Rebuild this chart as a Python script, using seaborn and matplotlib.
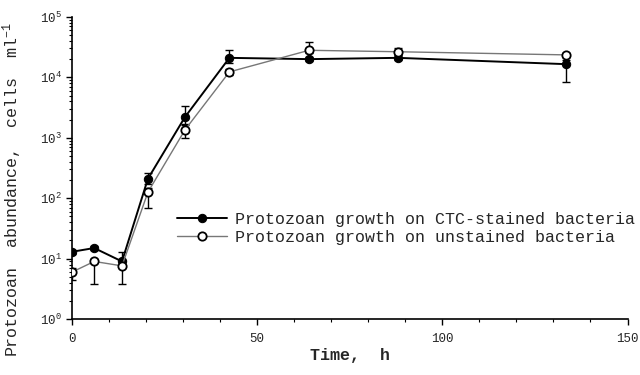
import matplotlib
matplotlib.use("Agg")
import matplotlib.pyplot as plt
import seaborn as sns
import numpy as np
import pandas as pd
from matplotlib.ticker import MultipleLocator, LogLocator

# Data
time_h = [0, 6, 13.5, 20.5, 30.5, 42.5, 64, 88, 133.5]
ctc = [13, 15, 9, 210, 2200, 21000, 20000, 21000, 16500]
ctc_lo = [12, 14, 8, 170, 1700, 17000, 18500, 19000, 8300]
ctc_hi = [14, 16, 13, 260, 3300, 28000, 22000, 23000, 19000]
unst = [6, 9, 7.6, 126, 1350, 12300, 28000, 26500, 23500]
unst_lo = [4.5, 3.8, 3.8, 69, 1000, 11000, 25000, 24000, 22000]
unst_hi = [7, 10, 9, 150, 1600, 13500, 39000, 30000, 25500]
lab_ctc = "Protozoan growth on CTC-stained bacteria"
lab_un = "Protozoan growth on unstained bacteria"

sns.set_style("ticks")
plt.rcParams['font.family'] = ['Liberation Mono', 'DejaVu Sans']
plt.rcParams['mathtext.fontset'] = 'custom'
plt.rcParams['mathtext.rm'] = 'Liberation Mono'
plt.rcParams['mathtext.it'] = 'Liberation Mono'

fig = plt.figure(figsize=(6.4, 3.75), dpi=100)
ax = fig.add_axes([0.1125, 0.149, 0.868, 0.806])

df1 = pd.DataFrame({"t": time_h, "v": ctc})
df2 = pd.DataFrame({"t": time_h, "v": unst})

# error bars
ax.errorbar(time_h, ctc, yerr=[np.array(ctc) - np.array(ctc_lo), np.array(ctc_hi) - np.array(ctc)],
            fmt='none', ecolor='black', elinewidth=1.0, capsize=3, capthick=1.0, zorder=2)
ax.errorbar(time_h, unst, yerr=[np.array(unst) - np.array(unst_lo), np.array(unst_hi) - np.array(unst)],
            fmt='none', ecolor='black', elinewidth=1.0, capsize=3, capthick=1.0, zorder=2)

sns.lineplot(data=df1, x="t", y="v", ax=ax, color='black', lw=1.4, marker='o',
             markersize=6, markerfacecolor='black', markeredgecolor='black',
             label=lab_ctc, zorder=4)
sns.lineplot(data=df2, x="t", y="v", ax=ax, color='#777777', lw=1.0, marker='o',
             markersize=6, markerfacecolor='white', markeredgecolor='black',
             markeredgewidth=1.3, label=lab_un, zorder=5)

ax.set_yscale('log')
ax.set_ylim(1, 1e5)
ax.set_xlim(0, 150)
ax.xaxis.set_major_locator(MultipleLocator(50))
ax.xaxis.set_minor_locator(MultipleLocator(10))
ax.yaxis.set_major_locator(LogLocator(base=10, numticks=10))
ax.yaxis.set_minor_locator(LogLocator(base=10, subs=np.arange(2, 10), numticks=20))

ax.tick_params(axis='both', which='major', labelsize=9, length=4, width=1.0, color='black')
ax.tick_params(axis='x', which='major', pad=6)
ax.tick_params(axis='both', which='minor', length=2.5, width=0.8, color='black')
for s in ['top', 'right']:
    ax.spines[s].set_visible(False)
for s in ['left', 'bottom']:
    ax.spines[s].set_linewidth(1.2)
    ax.spines[s].set_color('black')

ax.set_xlabel("Time,  h", fontsize=12, fontweight='bold', labelpad=2)
ax.set_ylabel("Protozoan  abundance,  cells  ml$^{-1}$", fontsize=12)
ax.yaxis.set_label_coords(-0.086, 0.43)

leg = ax.legend(loc='upper left', bbox_to_anchor=(162/640, 1 - 197/375),
                bbox_transform=fig.transFigure, frameon=False, fontsize=12,
                handlelength=3.0, handletextpad=0.5, labelspacing=0.15)

fig.savefig("out.png", dpi=100)
